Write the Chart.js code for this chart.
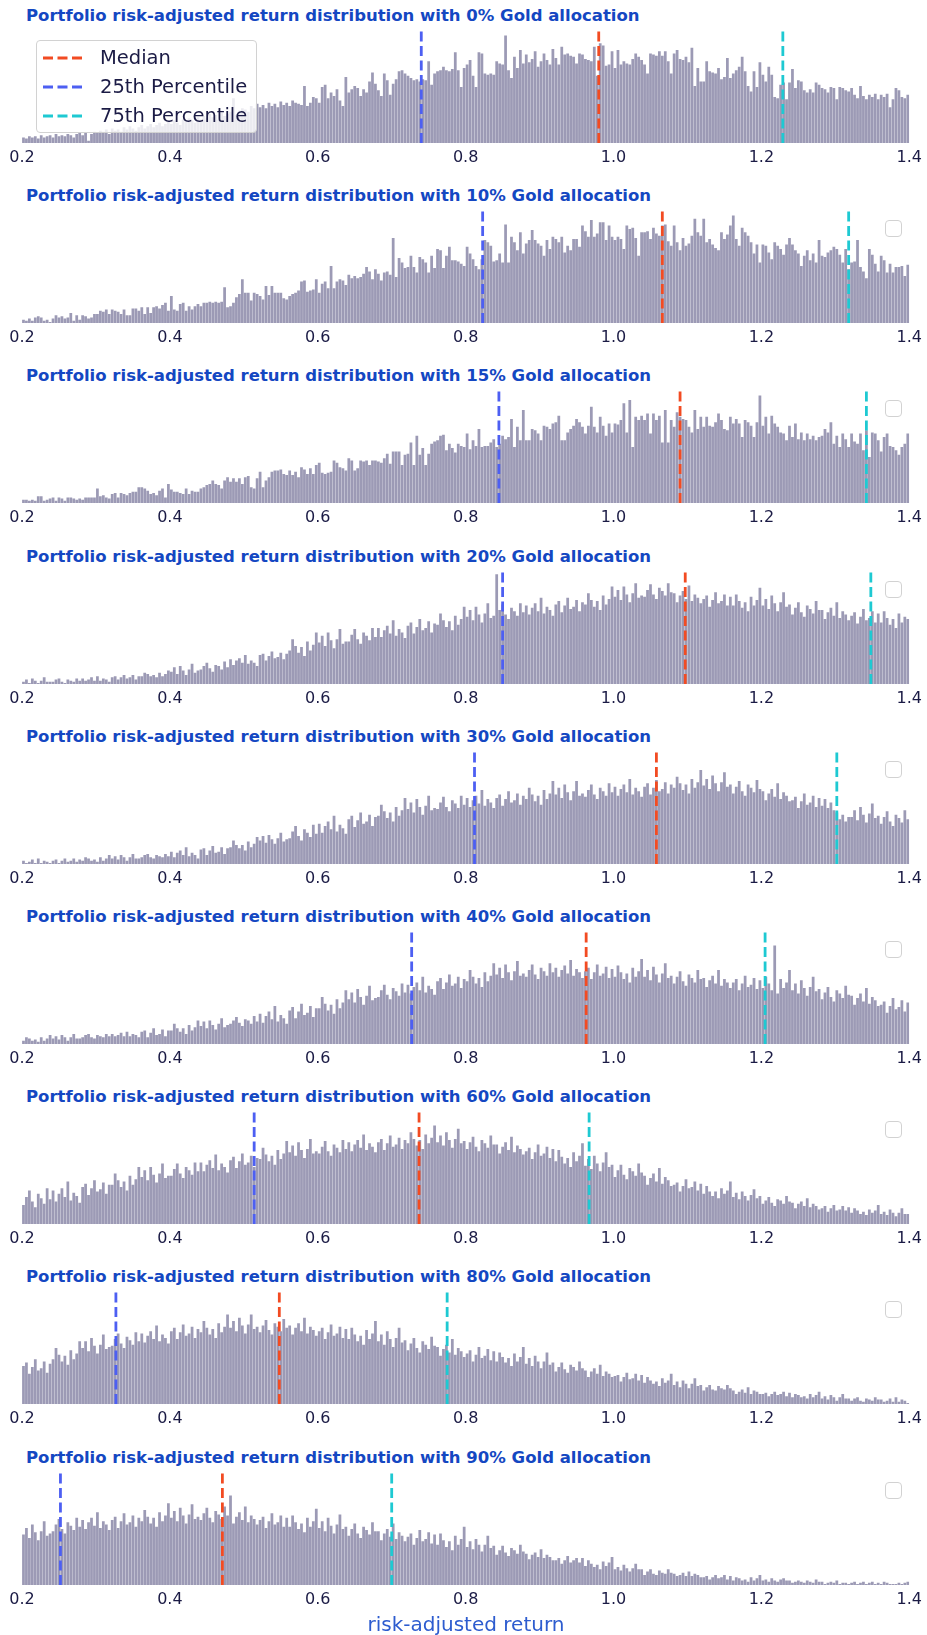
<!DOCTYPE html>
<html>
<head>
<meta charset="utf-8">
<script src="https://cdn.jsdelivr.net/npm/chart.js@4.4.1/dist/chart.umd.min.js"></script>
<style>
  body { margin: 0; background: #fff; font-family: 'DejaVu Sans', sans-serif; }
  #page { position: relative; width: 927px; height: 1635px; overflow: hidden; }
  .panel { position: absolute; left: 0; width: 927px; height: 181px; }
  .ptitle { position: absolute; left: 26px; top: 6px; font-size: 16.5px; line-height: 20px; font-weight: bold; color: #1447c2; white-space: nowrap; }
  .panel canvas { position: absolute; left: 0; top: 31px; }
  .emptyleg { position: absolute; left: 885px; top: 40px; width: 15px; height: 15px; border: 1px solid #d2d2d2; border-radius: 4px; background: rgba(255,255,255,0.8); }
  #legend { position: absolute; left: 36px; top: 40px; width: 219px; height: 91px; border: 1px solid #d2d2d2; border-radius: 4px; background: rgba(255,255,255,0.8); }
  #legend .row { position: absolute; left: 6px; height: 29px; line-height: 29px; font-size: 19.5px; color: #1b1b45; white-space: nowrap; }
  #legend svg { position: absolute; left: 0; top: 12px; }
  #legend span { position: absolute; left: 57px; top: 0; }
  #xtitle { position: absolute; left: 22px; width: 888px; top: 1611px; text-align: center; font-size: 20px; line-height: 26px; color: #2d5ccf; }
</style>
</head>
<body>
<div id="page"></div>
<script>
// histogram bins: 300 bins of width 0.004 starting at 0.2
const binStart = 0.2;
const binWidth = 0.004;
const tickValues = [0.2, 0.4, 0.6, 0.8, 1.0, 1.2, 1.4];
const goldAlloc = ['0%', '10%', '15%', '20%', '30%', '40%', '60%', '80%', '90%'];

const p25 = [0.740, 0.823, 0.845, 0.850, 0.812, 0.727, 0.514, 0.327, 0.252];
const p50 = [0.980, 1.066, 1.090, 1.097, 1.058, 0.963, 0.737, 0.548, 0.471];
const p75 = [1.229, 1.318, 1.342, 1.348, 1.302, 1.205, 0.967, 0.775, 0.700];

// bar heights (share of the panel height)
const gold0 = [
  5,4,6,5,6,4,7,5,6,7,5,8,6,7,6,8,7,5,8,9,7,9,2,8,10,
  9,11,10,12,8,13,11,12,10,14,12,15,13,11,14,16,13,15,17,14,16,18,15,17,19,
  17,20,18,16,21,19,22,20,18,23,21,24,22,26,23,25,21,27,24,26,28,40,25,29,31,
  30,28,33,31,35,32,34,31,36,33,35,32,37,34,36,33,38,36,35,
  34,51,33,36,41,40,36,50,52,40,45,42,48,38,33,59,45,48,51,49,
  42,48,45,55,63,53,47,42,62,56,43,53,57,64,65,62,60,58,56,57,
  55,57,56,73,52,62,64,65,68,65,64,66,81,65,50,67,70,74,60,50,
  81,80,62,61,62,61,73,71,70,96,65,58,77,67,83,71,79,72,75,82,
  68,73,80,74,70,84,76,70,86,79,80,78,77,71,80,79,75,74,73,86,
  60,89,
  87,69,70,82,67,83,70,73,71,70,75,80,77,74,70,62,80,79,78,82,
  78,82,73,62,80,83,75,74,77,72,85,51,67,55,55,73,64,63,62,67,
  57,59,76,58,62,65,68,77,64,51,46,64,50,72,61,55,68,61,41,40,
  52,54,39,54,66,49,56,55,47,45,48,45,54,52,49,48,45,50,49,39,
  50,49,47,46,49,43,40,51,42,39,
  43,41,44,39,43,41,44,32,39,49,47,41,40,43
];
const gold10 = [
  3,2,4,2,5,6,5,2,3,1,4,7,5,6,4,5,9,2,7,3,
  7,6,4,5,8,8,11,10,12,8,12,11,10,8,12,7,7,13,13,11,
  14,8,14,9,14,15,13,16,18,11,24,12,11,17,18,11,15,12,15,17,
  15,18,18,19,18,19,18,19,32,14,15,18,23,26,39,27,27,20,27,26,
  24,21,33,25,33,27,27,27,22,21,24,26,27,29,
  37,38,28,29,30,39,27,35,37,31,51,31,37,39,38,34,43,40,42,40,
  41,44,50,46,39,48,44,38,45,46,43,76,41,58,54,49,50,
  60,50,45,59,57,54,45,60,49,66,65,49,60,68,56,56,55,53,51,68,
  62,57,51,48,57,74,72,69,55,56,62,54,88,
  54,77,72,65,81,62,71,74,83,74,71,69,60,74,66,77,75,72,77,63,69,65,75,75,68,
  87,82,77,92,77,80,90,90,74,87,77,74,77,75,
  66,87,84,85,76,60,81,81,82,75,85,80,78,87,88,73,69,87,72,65,
  76,69,71,78,93,81,78,93,72,75,70,67,65,81,75,79,87,96,75,69,
  85,81,78,72,62,70,54,70,69,63,57,72,69,66,61,70,76,70,65,62,
  51,60,65,56,62,54,74,60,59,63,65,68,66,61,54,66,48,54,55,74,
  50,46,40,66,61,53,46,60,56,45,53,45,50,50,51,42,52
];
const gold15 = [
  3,3,2,3,2,6,6,2,3,4,5,2,5,4,2,5,5,4,3,4,
  3,5,5,5,5,13,6,7,5,4,8,9,5,9,8,7,9,10,10,14,
  14,13,11,8,9,7,11,13,5,17,12,10,10,9,8,13,8,11,10,10,
  13,14,16,17,20,17,16,13,20,23,19,22,19,22,17,23,24,14,13,22,
  28,14,20,23,28,29,29,30,26,25,29,25,28,23,32,30,26,31,26,34,
  36,27,26,27,28,38,36,32,31,29,40,38,29,31,38,37,38,34,38,38,
  37,36,40,44,35,46,46,46,34,43,44,54,34,60,43,49,34,44,53,55,
  56,60,61,47,53,49,45,53,
  51,50,62,48,56,51,66,50,51,51,54,57,50,53,60,57,59,75,50,68,
  56,83,56,56,66,65,62,56,69,68,66,71,72,78,56,56,63,66,69,75,
  72,68,62,69,86,68,63,77,69,60,71,63,71,70,74,89,63,92,50,77,
  74,78,74,80,62,80,74,78,54,83,54,74,68,81,77,75,74,68,63,83,
  66,77,68,77,69,68,72,80,74,66,65,77,71,75,71,59,74,72,69,59,72,96,
  69,77,62,78,71,68,63,62,56,69,59,71,57,63,56,62,57,60,56,59,
  60,66,63,72,53,60,50,62,57,50,62,55,53,62,47,65,
  41,63,62,56,46,59,62,51,50,47,43,50,53,62
];
const gold20 = [
  2,4,1,5,3,1,3,6,2,2, 2,4,5,2,1,4,3,2,5,3, 5,3,4,6,3,7,3,5,4,2,
  6,7,4,6,8,5,6,8,4,7, 7,10,9,7,8,6,10,7,9,12, 11,15,9,16,12,8,13,18,10,12,
  13,16,19,14,11,17,16,13,20,15, 22,17,21,23,19,26,18,21,19,16, 26,27,21,25,29,23,24,28,22,27,
  30,40,34,28,33,25,38,30,35,46, 37,43,34,46,39,32,40,49,36,38, 38,44,49,40,36,46,43,39,50,42,
  50,42,48,52,45,57,43,49,46,41, 52,55,45,51,58,48,50,56,46,54, 53,63,57,51,56,48,61,53,58,69,
  60,66,57,69,62,55,63,72,59,61, 98,66,71,62,58,68,65,61,72,64, 70,62,68,72,65,77,63,69,66,61,
  71,74,64,70,77,67,69,75,65,73, 71,81,75,69,74,66,79,71,76,87, 78,84,75,87,80,73,81,90,77,79,
  78,84,89,80,76,86,83,79,90,82, 81,73,79,83,76,88,74,80,77,72, 76,79,69,75,82,72,74,80,70,78,
  70,80,74,68,73,65,78,70,75,86, 70,76,67,79,72,65,73,82,69,71, 62,68,73,64,60,70,67,63,74,66,
  66,58,64,68,61,73,59,65,62,57, 61,64,54,60,67,57,59,65,55,63, 55,65,59,53,58,50,63,55,60,58
];
const gold30 = [
  3,1,2,4,1,5,1,3,2,1, 3,4,1,3,5,2,3,5,2,4, 3,6,5,3,4,2,6,3,5,8,
  5,7,4,8,6,3,6,9,5,5, 6,8,9,6,5,8,7,6,9,7, 11,6,10,12,8,15,7,10,8,5,
  13,14,8,12,16,10,11,15,9,14, 15,21,17,14,17,12,20,15,18,24, 21,25,19,26,22,18,23,28,20,22,
  23,29,34,25,21,31,28,24,35,27, 36,28,34,38,31,43,29,35,32,27, 40,43,33,39,46,36,38,44,34,42,
  43,53,47,41,46,38,51,43,48,59, 49,55,46,58,51,44,52,61,48,50, 49,55,60,51,47,57,54,50,61,53,
  59,51,57,61,54,66,52,58,55,50, 59,62,52,58,65,55,57,63,53,61, 58,68,62,56,61,53,66,58,63,74,
  62,68,59,71,64,57,65,74,61,63, 60,66,71,62,58,68,65,61,72,64, 69,61,67,71,64,76,62,68,65,60,
  69,72,62,68,75,65,67,73,63,71, 68,78,72,66,71,63,76,68,73,84, 70,76,67,79,72,65,73,82,69,71,
  63,69,74,65,61,71,68,64,75,67, 65,57,63,67,60,72,58,64,61,56, 57,60,50,56,63,53,55,61,51,59,
  52,58,50,55,48,46,40,44,38,42, 42,48,39,51,44,37,45,54,41,43, 36,42,47,38,34,44,41,37,48,40
];
const gold40 = [
  3,6,5,3,4,2,6,3,5,8, 5,7,4,8,6,3,6,9,5,5, 6,8,9,6,5,8,7,6,9,7,
  9,7,8,10,7,11,7,9,8,6, 11,12,6,10,14,8,9,13,7,12, 12,18,14,11,14,9,17,12,15,21,
  16,20,14,21,17,13,18,23,15,17, 18,21,24,19,16,22,21,18,25,20, 27,19,25,29,22,34,20,26,23,18,
  30,33,23,29,36,26,28,34,24,32, 32,42,36,30,35,27,40,32,37,48, 40,46,37,49,42,35,43,52,39,41,
  42,48,53,44,40,50,47,43,54,46, 53,45,51,55,48,60,46,52,49,44, 56,59,49,55,62,52,54,60,50,58,
  56,66,60,54,59,51,64,56,61,72, 62,68,59,71,64,57,65,74,61,63, 60,66,71,62,58,68,65,61,72,64,
  68,60,66,70,63,75,61,67,64,59, 65,68,58,64,71,61,63,69,59,67, 60,70,64,58,63,55,68,60,65,76,
  60,66,57,69,62,55,63,72,59,61, 54,60,65,56,52,62,59,55,66,58, 59,51,57,61,54,66,52,58,55,50,
  55,58,48,54,61,51,53,59,49,57, 50,60,54,48,88,45,58,50,55,66, 48,54,45,57,50,43,51,60,47,49,
  40,46,51,42,38,48,45,41,52,44, 43,35,41,45,38,50,36,42,39,34, 35,38,28,34,41,31,33,39,29,37
];
const gold60 = [
  17,24,30,20,15,27,23,18,32,22, 30,20,27,32,24,38,21,28,25,19, 33,36,26,32,39,29,31,37,27,35,
  35,45,39,33,38,30,43,35,40,51, 42,48,39,51,44,37,45,54,41,43, 43,49,54,45,41,51,48,44,55,47,
  55,47,53,57,50,62,48,54,51,46, 57,60,50,56,63,53,55,61,51,59, 58,68,62,56,61,53,66,58,63,74,
  64,70,61,73,66,59,67,76,63,65, 63,69,74,65,61,71,68,64,75,67, 73,65,71,75,68,80,66,72,69,64,
  73,76,66,72,79,69,71,77,67,75, 72,82,76,70,75,67,80,72,77,88, 73,79,70,82,75,68,76,85,72,74,
  67,73,78,69,65,75,72,68,79,71, 71,63,69,73,66,78,64,70,67,62, 65,68,58,64,71,61,63,69,59,67,
  56,66,60,54,59,51,64,56,61,72, 52,58,49,61,54,47,55,64,51,53, 42,48,53,44,40,50,47,43,54,46,
  43,35,41,45,38,50,36,42,39,34, 35,37,29,34,40,32,33,38,30,36, 27,34,29,25,29,23,32,27,30,38,
  24,28,22,29,25,21,26,31,23,25, 18,21,24,19,16,22,21,18,25,20, 19,14,18,20,16,23,15,18,16,13,
  14,16,11,14,17,12,13,16,12,15, 10,14,12,9,11,8,13,10,12,17, 9,11,8,13,10,7,10,14,9,9
];
const gold80 = [
  34,37,27,33,40,30,32,38,28,36, 40,50,44,38,43,35,48,40,45,56, 50,56,47,59,52,45,53,62,49,51,
  52,58,63,54,50,60,57,53,64,56, 63,55,61,65,58,70,56,62,59,54, 65,68,58,64,71,61,63,69,59,67,
  64,74,68,62,67,59,72,64,69,80, 68,74,65,77,70,63,71,80,67,69, 64,70,75,66,62,72,69,65,76,68,
  70,62,68,72,65,77,63,69,66,61, 65,68,58,64,71,61,63,69,59,67, 58,68,62,56,61,53,66,58,63,74,
  56,62,53,65,58,51,59,68,55,57, 48,54,59,50,46,56,53,49,60,52, 51,43,49,53,46,58,44,50,47,42,
  45,48,38,44,51,41,43,49,39,47, 38,46,42,37,41,34,45,38,42,51, 36,41,34,43,38,32,38,46,35,37,
  29,33,37,31,28,35,33,30,38,32, 30,24,29,32,27,35,25,29,27,24, 25,26,20,24,28,22,23,27,21,26,
  19,24,21,18,20,16,23,19,21,27, 17,20,15,21,18,14,18,23,16,17, 12,15,17,13,12,16,14,13,17,14,
  12,9,11,13,10,15,9,12,11,9, 9,10,7,9,11,8,9,11,7,10, 6,9,8,6,7,5,9,6,8,11,
  5,7,4,8,6,3,6,9,5,5, 3,5,6,3,2,5,4,3,6,4, 4,2,3,5,2,6,2,4,3,1
];
const gold90 = [
  45,51,42,54,47,40,48,57,44,46, 48,54,59,50,46,56,53,49,60,52, 58,50,56,60,53,65,51,57,54,49,
  58,61,51,57,64,54,56,62,52,60, 57,67,61,55,60,52,65,57,62,73, 60,66,57,69,62,55,63,72,59,61,
  58,64,69,60,56,66,63,59,70,62, 80,55,61,65,58,70,56,62,59,54, 58,61,51,57,64,54,56,62,52,60,
  52,62,56,50,55,47,60,52,57,68, 51,57,48,60,53,46,54,63,50,52, 44,50,55,46,42,52,49,45,56,48,
  48,40,46,50,43,55,41,47,44,39, 43,46,36,42,49,39,41,47,37,45, 36,46,40,34,39,31,44,36,41,52,
  34,39,32,41,36,30,36,44,33,35, 27,31,35,29,26,33,31,28,36,30, 28,23,27,29,25,32,24,27,25,22,
  22,24,19,22,26,20,22,24,20,24, 17,22,19,16,18,14,21,17,20,25, 14,16,13,18,15,12,15,19,14,14,
  9,12,14,10,9,13,11,10,14,11, 10,8,9,11,8,12,8,10,9,7, 7,8,5,7,9,6,7,9,5,8,
  4,7,6,4,5,3,7,4,6,9, 4,5,3,6,4,3,5,6,4,4, 2,3,4,3,2,4,3,2,5,3,
  3,1,2,3,2,4,1,2,2,1, 2,3,1,2,3,1,2,3,1,2, 1,3,2,1,1,1,2,1,2,3
];

const counts = [gold0, gold10, gold15, gold20, gold30, gold40, gold60, gold80, gold90];

const BAR_COLOR = 'rgb(156,154,181)';
const MEDIAN_COLOR = '#f24b22';
const P25_COLOR = '#4d5ff2';
const P75_COLOR = '#1ec9d2';
const TICK_COLOR = '#1b1b45';
const PANEL_STEP = 180.2;

Chart.defaults.font.family = "'DejaVu Sans', sans-serif";
Chart.defaults.animation = false;

function vline(v, color) {
    return {
        type: 'line',
        data: [{x: v, y: 0}, {x: v, y: 100}],
        borderColor: color,
        borderWidth: 2.8,
        borderDash: [10, 4.5],
        pointRadius: 0,
        fill: false,
        order: 0
    };
}

function legendRow(top, color, label) {
    return `<div class="row" style="top:${top}px">
      <svg width="42" height="6"><line x1="0" y1="3" x2="41" y2="3" stroke="${color}" stroke-width="2.8" stroke-dasharray="10 4.5"/></svg>
      <span>${label}</span></div>`;
}

const page = document.getElementById('page');
const badLengths = [];

counts.forEach((values, k) => {
    if (values.length !== 300) badLengths.push(goldAlloc[k] + ':' + values.length);

    const panel = document.createElement('div');
    panel.className = 'panel';
    panel.style.top = (k * PANEL_STEP) + 'px';
    page.appendChild(panel);

    const title = document.createElement('div');
    title.className = 'ptitle';
    title.textContent = `Portfolio risk-adjusted return distribution with ${goldAlloc[k]} Gold allocation`;
    panel.appendChild(title);

    const canvas = document.createElement('canvas');
    canvas.width = 927;
    canvas.height = 149;
    canvas.style.width = '927px';
    canvas.style.height = '149px';
    panel.appendChild(canvas);

    if (k === 0) {
        const lg = document.createElement('div');
        lg.id = 'legend';
        lg.innerHTML = legendRow(2, MEDIAN_COLOR, 'Median') +
                       legendRow(31, P25_COLOR, '25th Percentile') +
                       legendRow(60, P75_COLOR, '75th Percentile');
        panel.appendChild(lg);
    } else {
        const eb = document.createElement('div');
        eb.className = 'emptyleg';
        panel.appendChild(eb);
    }

    const bars = values.map((v, i) => ({x: binStart + binWidth * (i + 0.5), y: v}));

    new Chart(canvas.getContext('2d'), {
        type: 'bar',
        data: {
            datasets: [
                vline(p50[k], MEDIAN_COLOR),
                vline(p25[k], P25_COLOR),
                vline(p75[k], P75_COLOR),
                {
                    type: 'bar',
                    data: bars,
                    backgroundColor: BAR_COLOR,
                    borderWidth: 0,
                    barPercentage: 0.93,
                    categoryPercentage: 1,
                    order: 1
                }
            ]
        },
        options: {
            responsive: false,
            devicePixelRatio: 1,
            events: [],
            layout: { padding: { left: 22, right: 17, top: 0, bottom: 0 } },
            plugins: { legend: { display: false }, tooltip: { enabled: false } },
            scales: {
                x: {
                    type: 'linear',
                    offset: false,
                    min: 0.2,
                    max: 1.4,
                    grid: { display: false, drawTicks: false, offset: false },
                    border: { display: false },
                    afterBuildTicks: s => { s.ticks = tickValues.map(v => ({ value: v })); },
                    afterFit: s => { s.height = 37; },
                    ticks: {
                        color: TICK_COLOR,
                        font: { size: 16 },
                        padding: 5,
                        maxRotation: 0,
                        autoSkip: false,
                        callback: v => v.toFixed(1)
                    }
                },
                y: { display: false, min: 0, max: 100 }
            }
        }
    });
});

const xt = document.createElement('div');
xt.id = 'xtitle';
xt.textContent = 'risk-adjusted return';
page.appendChild(xt);

if (badLengths.length) {
    const warn = document.createElement('div');
    warn.style.cssText = 'position:absolute;left:300px;top:0;color:red;font-size:20px;background:#fff';
    warn.textContent = 'bad lengths ' + badLengths.join(' ');
    page.appendChild(warn);
}
</script>
</body>
</html>
